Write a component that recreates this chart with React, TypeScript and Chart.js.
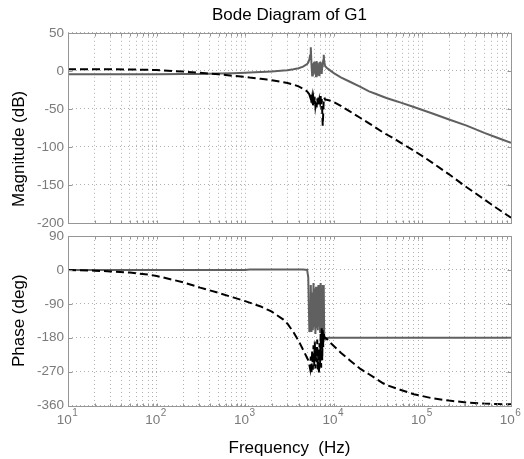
import React, { useEffect, useRef } from 'react';
import { Chart, registerables } from 'chart.js';

Chart.register(...registerables);

// ---------- data ----------
const freqHz = [
  10, 20, 30, 50, 84, 100, 200, 310, 500, 730,
  1000, 1120, 1500, 1760, 2000, 2700, 3000, 3500, 4000, 4500,
  5000, 5150, 5300, 5400, 5500, 5600, 5700, 5800, 5900, 6000,
  6100, 6200, 6300, 6400, 6500, 6600, 6700, 6800, 6900, 7000,
  7100, 7200, 7300, 7400, 7500, 7600, 7700, 7800, 8000, 8300,
  9000, 10000, 12000, 15000, 20000, 25000, 30000, 36000, 40000, 51000,
  56000, 80000, 100000, 130000, 200000, 316000, 500000, 700000, 1000000,
];

const magSolid = [
  -4.5, -4.5, -4.5, -4.5, -4.4, -4.4, -4.2, -4.0, -3.6, -3.2,
  -2.6, -2.3, -1.6, -1.2, -0.8, 0.3, 0.8, 2, 3.5, 5.5,
  9, 11, 15, 20, 31, 8, -6, 10, -5, 12,
  -3, 9, -7, 13, 0, 11, -5, 8, -7, 12,
  -2, 10, -4, 6, 9, 14, 21, 12, 6, 4,
  1, -3, -8.5, -14, -21, -27, -30.5, -34, -36, -40,
  -41.5, -47.5, -51.5, -56, -64, -72, -81.5, -88, -94.5,
];

const magDashed = [
  2, 2, 2, 1.8, 1.3, 1, -1, -2.5, -4.5, -6.5,
  -8, -8.8, -10.5, -11.5, -12.5, -15, -16, -18, -20.5, -23.5,
  -27, -29, -31, -34, -30, -42, -35, -47, -37, -44,
  -34, -46, -40, -48, -36, -44, -35, -46, -38, -42,
  -33, -45, -37, -52, -72, -55, -38, -35, -38, -38,
  -39, -41, -46, -53, -62, -69, -75, -81, -84, -91,
  -94, -105, -112, -121, -136, -153, -169, -181, -193,
];

const phaseSolid = [
  0, 0, 0, 0, 0, 0, 0, 0, 0, 0,
  0, 1, 1, 1, 1, 1, 1, 1, 1, 1,
  0, -20, -165, -150, -40, -165, -60, -160, -35, -150,
  -50, -170, -45, -155, -70, -160, -40, -150, -60, -165,
  -35, -140, -50, -160, -40, -170, -40, -183, -184, -181,
  -180, -180, -180, -180, -180, -180, -180, -180, -180, -180,
  -180, -180, -180, -180, -180, -180, -180, -180, -180,
];

const phaseDashed = [
  0, -2, -4, -7, -13, -16, -33, -47, -61, -73,
  -83, -87, -97, -105, -111, -132, -143, -165, -188, -212,
  -234, -240, -252, -262, -230, -276, -215, -265, -200, -255,
  -190, -262, -205, -245, -185, -268, -210, -276, -195, -250,
  -170, -260, -150, -240, -160, -205, -165, -178, -180, -183,
  -192, -202, -220, -239, -263, -277, -289, -301, -306, -315,
  -318, -330, -335, -341, -347, -352, -355, -356, -357,
];

const decades = [10, 100, 1000, 10000, 100000];
const mantissas = [1, 2, 3, 4, 5, 6, 7, 8, 9];
const xLabelExponents = [1, 2, 3, 4, 5, 6];
const magTicks = { min: -200, max: 50, step: 50 };
const phaseTicks = { min: -360, max: 90, step: 90 };

// ---------- styling ----------
const FONT = '"Liberation Sans", Arial, Helvetica, sans-serif';
const GRID = '#b0b0b0';
const FRAME = '#969696';
const TICK_TXT = '#7a7a7a';
const SOLID = '#606060';
const W = 524;
const H = 459;

const xGridValues: number[] = [];
decades.forEach((d) => mantissas.forEach((m) => xGridValues.push(d * m)));
xGridValues.push(1000000);

const pts = (ys: number[]) => freqHz.map((f, i) => ({ x: f, y: ys[i] }));

function makeFrame(opts: { xLabels: boolean; yTitle?: string }) {
  return {
    id: 'frame',
    afterDraw(chart: any) {
      const { ctx, chartArea: a, scales } = chart;
      const l = Math.round(a.left) + 0.5;
      const t = Math.round(a.top) + 0.5;
      const r = Math.round(a.right) + 0.5;
      const b = Math.round(a.bottom) + 0.5;
      ctx.save();
      ctx.strokeStyle = FRAME;
      ctx.lineWidth = 1;
      ctx.setLineDash([]);
      ctx.strokeRect(l, t, r - l, b - t);
      ctx.beginPath();
      const xs = scales.x;
      xs.ticks.forEach((tk: any) => {
        const px = Math.round(xs.getPixelForValue(tk.value)) + 0.5;
        ctx.moveTo(px, b);
        ctx.lineTo(px, b - 3);
        ctx.moveTo(px, t);
        ctx.lineTo(px, t + 3);
      });
      const ys = scales.y;
      ys.ticks.forEach((tk: any) => {
        const py = Math.round(ys.getPixelForValue(tk.value)) + 0.5;
        ctx.moveTo(l, py);
        ctx.lineTo(l + 4, py);
        ctx.moveTo(r, py);
        ctx.lineTo(r - 4, py);
      });
      ctx.stroke();

      if (opts.xLabels) {
        ctx.fillStyle = TICK_TXT;
        ctx.textBaseline = 'middle';
        ctx.textAlign = 'left';
        xLabelExponents.forEach((e) => {
          const px = xs.getPixelForValue(Math.pow(10, e));
          ctx.font = `13.5px ${FONT}`;
          const wBase = ctx.measureText('10').width;
          ctx.font = `10px ${FONT}`;
          const wExp = ctx.measureText(String(e)).width;
          const x0 = px - (wBase + wExp) / 2 - 1;
          const yb = a.bottom + 14.5;
          ctx.font = `13.5px ${FONT}`;
          ctx.fillText('10', x0, yb);
          ctx.font = `10px ${FONT}`;
          ctx.fillText(String(e), x0 + wBase + 0.5, yb - 7);
        });
      }
      if (opts.yTitle) {
        ctx.fillStyle = '#000';
        ctx.font = `17px ${FONT}`;
        ctx.textAlign = 'center';
        ctx.textBaseline = 'middle';
        ctx.translate(19, (a.top + a.bottom) / 2 + 21);
        ctx.rotate(-Math.PI / 2);
        ctx.fillText(opts.yTitle, 0, 0);
      }
      ctx.restore();
    },
  };
}

function xScale(height: number, title?: string) {
  return {
    type: 'logarithmic',
    min: 10,
    max: 1000000,
    afterBuildTicks: (s: any) => {
      s.ticks = xGridValues.map((v) => ({ value: v }));
    },
    ticks: { display: false },
    grid: { color: GRID, lineWidth: 1, drawTicks: false },
    border: { display: false, dash: [1, 3] },
    title: title
      ? {
          display: true,
          text: title,
          color: '#000',
          font: { family: FONT, size: 17 },
          padding: { top: 0, bottom: 0.5 },
        }
      : { display: false },
    afterFit: (s: any) => {
      s.height = height;
    },
  };
}

function yScale(t: { min: number; max: number; step: number }, title?: string) {
  return {
    type: 'linear',
    min: t.min,
    max: t.max,
    ticks: {
      stepSize: t.step,
      color: TICK_TXT,
      font: { family: FONT, size: 13.5 },
      padding: 4,
    },
    grid: { color: GRID, lineWidth: 1, drawTicks: false },
    border: { display: false, dash: [1, 3] },
    title: title
      ? {
          display: true,
          text: title,
          color: '#000',
          font: { family: FONT, size: 17 },
          padding: { top: 8.8, bottom: 0 },
        }
      : { display: false },
    afterFit: (s: any) => {
      s.width = 68;
    },
  };
}

function lineSets(dashed: number[], solid: number[]) {
  return [
    {
      label: 'dashed',
      data: pts(dashed),
      borderColor: '#000000',
      borderWidth: 2,
      borderDash: [8, 4],
      pointRadius: 0,
      fill: false,
      tension: 0,
    },
    {
      label: 'solid',
      data: pts(solid),
      borderColor: SOLID,
      borderWidth: 2,
      pointRadius: 0,
      fill: false,
      tension: 0,
    },
  ];
}

export default function App() {
  const magRef = useRef<HTMLCanvasElement>(null);
  const phRef = useRef<HTMLCanvasElement>(null);

  useEffect(() => {
    const common = {
      responsive: false,
      animation: false,
      devicePixelRatio: 1,
      events: [],
    };
    const mag = new Chart(magRef.current as HTMLCanvasElement, {
      type: 'line',
      data: { datasets: lineSets(magDashed, magSolid) as any },
      options: {
        ...common,
        layout: { padding: { left: 0, right: 13, top: 0, bottom: 236 } },
        plugins: {
          legend: { display: false },
          tooltip: { enabled: false },
          title: {
            display: true,
            text: 'Bode Diagram of G1',
            fullSize: false,
            color: '#000',
            font: { family: FONT, size: 17, weight: 'normal' },
            padding: { top: 5.5, bottom: 6.9 },
          },
        },
        scales: {
          x: xScale(0) as any,
          y: yScale(magTicks) as any,
        },
      } as any,
      plugins: [makeFrame({ xLabels: false, yTitle: 'Magnitude (dB)' })],
    });
    const ph = new Chart(phRef.current as HTMLCanvasElement, {
      type: 'line',
      data: { datasets: lineSets(phaseDashed, phaseSolid) as any },
      options: {
        ...common,
        layout: { padding: { left: 0, right: 13, top: 236, bottom: 0 } },
        plugins: {
          legend: { display: false },
          tooltip: { enabled: false },
          title: { display: false },
        },
        scales: {
          x: xScale(53.5, 'Frequency  (Hz)') as any,
          y: yScale(phaseTicks, 'Phase (deg)') as any,
        },
      } as any,
      plugins: [makeFrame({ xLabels: true })],
    });
    return () => {
      mag.destroy();
      ph.destroy();
    };
  }, []);

  const cs: React.CSSProperties = { position: 'absolute', left: 0, top: 0, display: 'block' };
  return (
    <div style={{ position: 'absolute', left: 0, top: 0, width: W, height: H, background: '#fff' }}>
      <canvas ref={magRef} width={W} height={H} style={cs} />
      <canvas ref={phRef} width={W} height={H} style={cs} />
    </div>
  );
}
